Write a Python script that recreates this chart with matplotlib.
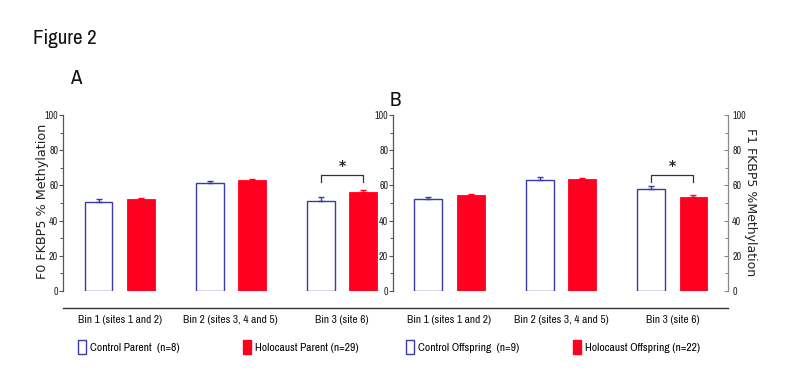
import matplotlib
matplotlib.use("Agg")
import matplotlib.pyplot as plt
from matplotlib.patches import Patch
from matplotlib.lines import Line2D
import numpy as np

NARROW = ['Archivo Narrow', 'DejaVu Sans']
plt.rcParams['font.family'] = NARROW

bins = ["Bin 1 (sites 1 and 2)", "Bin 2 (sites 3, 4 and 5)", "Bin 3 (site 6)"]
a_control = [50.7, 61.2, 51.3]
a_control_err = [1.7, 1.5, 1.9]
a_holo = [52.3, 63.1, 56.4]
a_holo_err = [0.7, 0.7, 1.0]
b_control = [52.3, 63.1, 57.8]
b_control_err = [1.3, 1.5, 1.9]
b_holo = [54.5, 63.4, 53.6]
b_holo_err = [0.8, 0.6, 0.9]
sig_bin = 2
bracket_top = 66.0
bracket_drop = 4.0
yticks = [0, 20, 40, 60, 80, 100]
legend_labels = ["Control Parent  (n=8)", "Holocaust Parent (n=29)",
                 "Control Offspring  (n=9)", "Holocaust Offspring (n=22)"]

BLUE = "#3a3aa8"
RED = "#ff0020"
AX = "#555555"
W, H = 794, 370

fig = plt.figure(figsize=(W / 100, H / 100), dpi=100)
fig.patch.set_facecolor("white")


def box(x0, x1, y0, y1):
    return [x0 / W, 1 - y1 / H, (x1 - x0) / W, (y1 - y0) / H]


axA = fig.add_axes(box(63, 397.5, 115, 291))
axB = fig.add_axes(box(393, 728, 115, 291))

x = np.arange(len(bins))
off = 0.19
bw = 0.25


def draw(ax, ctrl, cerr, holo, herr, xl):
    ax.set_facecolor("none")
    ax.bar(x - off, ctrl, bw, facecolor="white", edgecolor=BLUE, linewidth=1.0, zorder=2)
    ax.bar(x + off, holo, bw, facecolor=RED, edgecolor=RED, linewidth=0.6, zorder=2)
    ax.errorbar(x - off, ctrl, yerr=[np.zeros(3), cerr], fmt="none", ecolor=BLUE,
                elinewidth=1.0, capsize=2.5, capthick=1.0, zorder=3)
    ax.errorbar(x + off, holo, yerr=[np.zeros(3), herr], fmt="none", ecolor=RED,
                elinewidth=1.0, capsize=2.5, capthick=1.0, zorder=3)
    xs = [sig_bin - off, sig_bin - off, sig_bin + off, sig_bin + off]
    ys = [bracket_top - bracket_drop, bracket_top, bracket_top, bracket_top - bracket_drop]
    ax.plot(xs, ys, color="#333333", linewidth=0.9, zorder=3)
    ax.text(sig_bin, bracket_top + 1.0, "*", ha="center", va="bottom", fontsize=10,
            fontweight="bold", color="#222222", family=["DejaVu Sans"])
    ax.set_ylim(0, 100)
    ax.set_xlim(*xl)
    for s in ["top", "right", "bottom"]:
        ax.spines[s].set_visible(False)
    ax.spines["left"].set_color(AX)
    ax.spines["left"].set_linewidth(0.9)
    ax.set_yticks(yticks)
    ax.set_yticks(np.arange(10, 100, 20), minor=True)
    ax.tick_params(axis="y", which="major", length=3, width=0.8, color=AX,
                   labelsize=7.2, labelcolor="#222222", pad=0.5)
    ax.tick_params(axis="y", which="minor", length=2, width=0.7, color=AX)
    ax.set_xticks(x)
    ax.set_xticklabels(bins, fontsize=8.2, color="#111111")
    ax.tick_params(axis="x", length=0, pad=17.5)


draw(axA, a_control, a_control_err, a_holo, a_holo_err, (-0.51, 2.5))
draw(axB, b_control, b_control_err, b_holo, b_holo_err, (-0.507, 2.50))

axA.set_ylabel("F0 FKBP5 % Methylation", fontsize=9.2, family=["DejaVu Sans"],
               color="#222222", va="center")
axA.yaxis.set_label_coords((43 - 63) / 334.5, 0.51)

axR = axB.twinx()
axR.set_ylim(0, 100)
axR.set_facecolor("none")
for s in ["top", "left", "bottom"]:
    axR.spines[s].set_visible(False)
axR.spines["right"].set_color("#888888")
axR.spines["right"].set_linewidth(0.9)
axR.set_yticks(yticks)
axR.set_yticks(np.arange(10, 100, 20), minor=True)
axR.tick_params(axis="y", which="major", direction="in", length=3, width=0.8, color="#888888",
                labelsize=7.2, labelcolor="#222222", pad=3)
axR.tick_params(axis="y", which="minor", direction="in", length=2, width=0.7, color="#888888")
axR.set_ylabel("F1 FKBP5 %Methylation", fontsize=9.0, rotation=-90, va="center",
               family=["DejaVu Sans"], color="#222222")
axR.yaxis.set_label_coords((750 - 393) / 335.0, 0.505)

# baseline under both panels
fig.add_artist(Line2D([63 / W, 728 / W], [1 - 308 / H, 1 - 308 / H], color="#333333",
                      linewidth=1.0))

fig.text(33 / W, 1 - 39 / H, "Figure 2", fontsize=15, va="center", ha="left", color="#111111")
fig.text(70 / W, 1 - 79 / H, "A", fontsize=15, va="center", ha="left", color="#111111")
fig.text(390 / W, 1 - 101 / H, "B", fontsize=15, va="center", ha="left", color="#111111")

handles = [Patch(facecolor="white", edgecolor=BLUE, linewidth=1.0),
           Patch(facecolor=RED, edgecolor=RED),
           Patch(facecolor="white", edgecolor=BLUE, linewidth=1.0),
           Patch(facecolor=RED, edgecolor=RED)]
leg_x = [78, 243, 406, 573]
for hx, h, lab in zip(leg_x, handles, legend_labels):
    fig.legend([h], [lab], loc="center left", bbox_to_anchor=(hx / W, 1 - 347 / H),
               frameon=False, fontsize=8.3, handlelength=0.7, handleheight=1.6,
               handletextpad=0.35, borderpad=0, borderaxespad=0)

fig.savefig("out.png", dpi=100, facecolor="white")
